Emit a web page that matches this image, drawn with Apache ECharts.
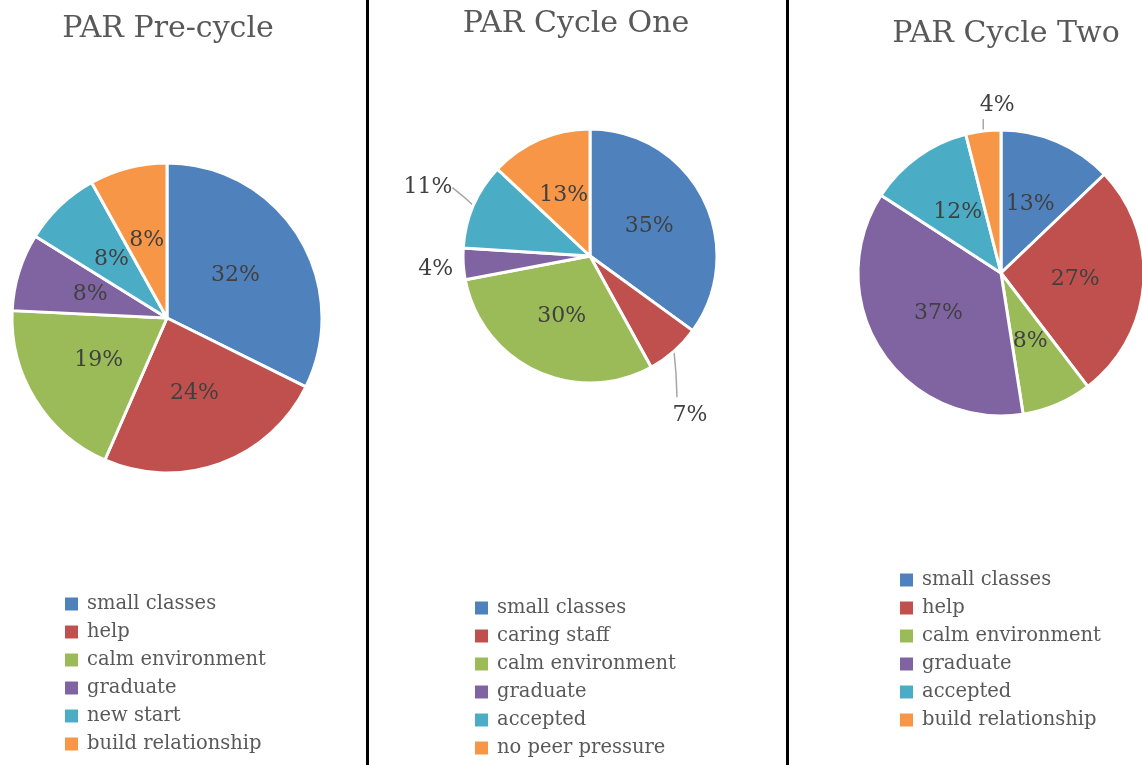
<!DOCTYPE html>
<html>
<head>
    <meta charset="utf-8" />
    <script src="https://cdn.jsdelivr.net/npm/echarts@6/dist/echarts.min.js"></script>
    <title></title>
    <style>
        body { margin: 0; background: #fff; }
    </style>
</head>
<body>
    <div id="main" style="width: 1142px;height:765px;"></div>
</body>
</html>
<script>
    // slice colours (Office palette)
    var colors = ['#4F81BD', '#C0504D', '#9BBB59', '#8064A2', '#4BACC6', '#F79646'];

    var titles = ['PAR Pre-cycle', 'PAR Cycle One', 'PAR Cycle Two'];

    var preNames = ['small classes', 'help', 'calm environment', 'graduate', 'new start', 'build relationship'];
    var preValues = [32, 24, 19, 8, 8, 8];

    var oneNames = ['small classes', 'caring staff', 'calm environment', 'graduate', 'accepted', 'no peer pressure'];
    var oneValues = [35, 7, 30, 4, 11, 13];

    var twoNames = ['small classes', 'help', 'calm environment', 'graduate', 'accepted', 'build relationship'];
    var twoValues = [13, 27, 8, 37, 12, 4];

    var font = 'DejaVu Serif';
    var grey = '#595959';

    // slices whose label sits outside the pie
    var outsideOne = [1, 3, 4];
    var outsideTwo = [5];

    function makeData(names, values, outside) {
        var arr = [];
        for (var i = 0; i < names.length; i++) {
            var item = {
                name: names[i],
                value: values[i],
                itemStyle: { color: colors[i] }
            };
            if (outside.indexOf(i) >= 0) {
                item.label = { position: 'outside' };
                item.labelLine = { show: true, length: 14, length2: 0 };
            }
            arr.push(item);
        }
        return arr;
    }

    var chart = echarts.init(document.getElementById('main'));

    var labelStyle = {
        show: true,
        position: 'inside',
        formatter: '{c}%',
        color: '#404040',
        fontFamily: font,
        fontSize: 22
    };

    function legendFor(names, left, top) {
        return {
            orient: 'vertical',
            left: left,
            top: top,
            padding: 0,
            data: names,
            icon: 'rect',
            itemWidth: 15,
            itemHeight: 15,
            itemGap: 8,
            selectedMode: false,
            textStyle: { color: grey, fontFamily: font, fontSize: 19.5, lineHeight: 20, padding: [0, 0, 0, 3] }
        };
    }

    function titleFor(text, x, top) {
        return {
            text: text,
            left: x,
            top: top,
            padding: 0,
            textAlign: 'center',
            textStyle: { color: grey, fontFamily: font, fontSize: 30, fontWeight: 'normal' }
        };
    }

    var baseSeries = {
        type: 'pie',
        startAngle: 90,
        clockwise: true,
        avoidLabelOverlap: false,
        silent: true,
        itemStyle: { borderColor: '#fff', borderWidth: 3 },
        label: labelStyle,
        labelLine: { show: false, lineStyle: { color: '#a6a6a6', width: 1.5 } }
    };

    option = {
        animation: false,
        backgroundColor: '#fff',
        title: [
            titleFor(titles[0], 168, 14),
            titleFor(titles[1], 576, 9),
            titleFor(titles[2], 1006, 19)
        ],
        legend: [
            legendFor(preNames, 63, 594),
            legendFor(oneNames, 473, 598),
            legendFor(twoNames, 898, 570)
        ],
        graphic: [
            { type: 'rect', shape: { x: 366, y: 0, width: 3, height: 765 }, style: { fill: '#000' } },
            { type: 'rect', shape: { x: 786, y: 0, width: 3, height: 765 }, style: { fill: '#000' } }
        ],
        series: [
            Object.assign({}, baseSeries, {
                center: [167, 318],
                radius: 155,
                data: makeData(preNames, preValues, [])
            }),
            Object.assign({}, baseSeries, {
                center: [590, 256],
                radius: 127,
                data: makeData(oneNames, oneValues, outsideOne),
                labelLayout: function (p) {
                    var pts = p.labelLinePoints;
                    if (!pts) return;
                    var e = pts[0];
                    if (p.dataIndex === 1) {
                        return {
                            x: e[0] + 16, y: e[1] + 64, align: 'center', verticalAlign: 'middle',
                            labelLinePoints: [e, [e[0] + 2, e[1] + 22], [e[0] + 3, e[1] + 46]]
                        };
                    }
                    if (p.dataIndex === 3) {
                        return {
                            x: e[0] - 10, y: e[1] + 5, align: 'right', verticalAlign: 'middle',
                            labelLinePoints: [e, e, e]
                        };
                    }
                    if (p.dataIndex === 4) {
                        return {
                            x: e[0] - 21, y: e[1] - 18, align: 'right', verticalAlign: 'middle',
                            labelLinePoints: [e, [e[0] - 10, e[1] - 9], [e[0] - 21, e[1] - 18]]
                        };
                    }
                }
            }),
            Object.assign({}, baseSeries, {
                center: [1001, 273],
                radius: 143,
                data: makeData(twoNames, twoValues, outsideTwo),
                labelLayout: function (p) {
                    var pts = p.labelLinePoints;
                    if (!pts) return;
                    var e = pts[0];
                    if (p.dataIndex === 5) {
                        return {
                            x: e[0] + 14, y: e[1] - 26, align: 'center', verticalAlign: 'middle',
                            labelLinePoints: [e, [e[0], e[1] - 6], [e[0], e[1] - 12]]
                        };
                    }
                }
            })
        ]
    };

    chart.setOption(option);
</script>
